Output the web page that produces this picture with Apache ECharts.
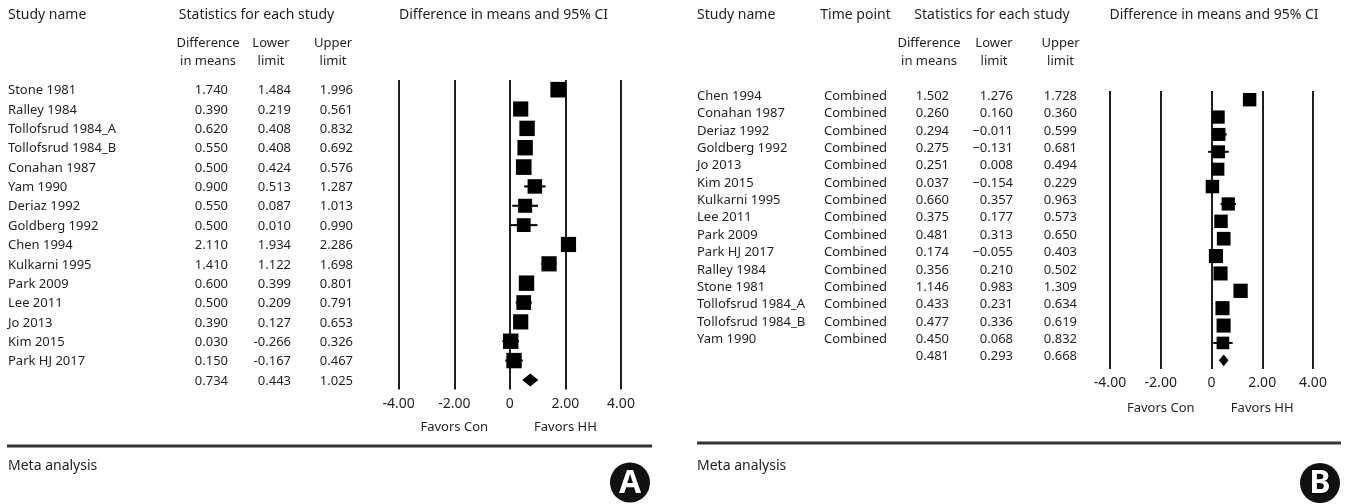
<!DOCTYPE html>
<html>
<head>
<meta charset="utf-8">
<script src="https://cdn.jsdelivr.net/npm/echarts@6/dist/echarts.min.js"></script>
<style>
  html, body { margin: 0; padding: 0; background: #fff; }
  #chart { width: 1346px; height: 504px; }
</style>
</head>
<body>
<div id="chart"></div>
<script>
// ---------- Panel A: studies in chronological order ----------
const studiesA = ['Stone 1981', 'Ralley 1984', 'Tollofsrud 1984_A', 'Tollofsrud 1984_B', 'Conahan 1987',
  'Yam 1990', 'Deriaz 1992', 'Goldberg 1992', 'Chen 1994', 'Kulkarni 1995', 'Park 2009', 'Lee 2011',
  'Jo 2013', 'Kim 2015', 'Park HJ 2017'];
const diffA  = [1.740, 0.390, 0.620, 0.550, 0.500, 0.900, 0.550, 0.500, 2.110, 1.410, 0.600, 0.500, 0.390, 0.030, 0.150];
const lowerA = [1.484, 0.219, 0.408, 0.408, 0.424, 0.513, 0.087, 0.010, 1.934, 1.122, 0.399, 0.209, 0.127, -0.266, -0.167];
const upperA = [1.996, 0.561, 0.832, 0.692, 0.576, 1.287, 1.013, 0.990, 2.286, 1.698, 0.801, 0.791, 0.653, 0.326, 0.467];
const weightA = [6.8, 6.6, 6.7, 6.7, 6.8, 6.3, 6.1, 6.0, 6.6, 6.6, 6.7, 6.4, 6.6, 6.7, 6.7]; // relative weight, %
const pooledA = [0.734, 0.443, 1.025];

// ---------- Panel B: studies in alphabetical order ----------
const studiesB = ['Chen 1994', 'Conahan 1987', 'Deriaz 1992', 'Goldberg 1992', 'Jo 2013', 'Kim 2015',
  'Kulkarni 1995', 'Lee 2011', 'Park 2009', 'Park HJ 2017', 'Ralley 1984', 'Stone 1981',
  'Tollofsrud 1984_A', 'Tollofsrud 1984_B', 'Yam 1990'];
const timePointB = ['Combined', 'Combined', 'Combined', 'Combined', 'Combined', 'Combined', 'Combined',
  'Combined', 'Combined', 'Combined', 'Combined', 'Combined', 'Combined', 'Combined', 'Combined'];
const diffB  = [1.502, 0.260, 0.294, 0.275, 0.251, 0.037, 0.660, 0.375, 0.481, 0.174, 0.356, 1.146, 0.433, 0.477, 0.450];
const lowerB = [1.276, 0.160, -0.011, -0.131, 0.008, -0.154, 0.357, 0.177, 0.313, -0.055, 0.210, 0.983, 0.231, 0.336, 0.068];
const upperB = [1.728, 0.360, 0.599, 0.681, 0.494, 0.229, 0.963, 0.573, 0.650, 0.403, 0.502, 1.309, 0.634, 0.619, 0.832];
const weightB = [6.4, 6.3, 6.2, 6.2, 6.2, 6.4, 6.3, 6.4, 6.5, 6.7, 6.7, 6.8, 6.7, 6.7, 6.0]; // relative weight, %
const pooledB = [0.481, 0.293, 0.668];

// ---------- Shared axis ----------
const tickValues = [-4, -2, 0, 2, 4];
const tickLabels = ['-4.00', '-2.00', '0', '2.00', '4.00'];
const favorValues = [-2, 2];
const favorLabels = ['Favors Con', 'Favors HH'];

// ---------- Layout and style ----------
const FONT = '"Noto Sans", "DejaVu Sans", sans-serif';
const INK = '#231f20';
const BOX_PER_WEIGHT = 0.0828;   // box side = weight * this * pixels per unit

const LAYOUT = {
  A: {
    plotLeft: 398.7, plotWidth: 222.3, plotTop: 80, rowH: 19.35, textShift: 1, favorOffset: 24,
    cols: { name: 8, diff: 228, lower: 291, upper: 353 },
    head: { name: 8, stats: 256.5, plot: 503.5, diff: 208, lower: 271, upper: 333 },
    sepY: 446, sepX: [7, 652], badge: [630, 482.5], letter: 'A', metaX: 8
  },
  B: {
    plotLeft: 1110, plotWidth: 203, plotTop: 91, rowH: 17.375, textShift: -3.6, favorOffset: 26,
    cols: { name: 697, time: 855.5, diff: 949, lower: 1013, upper: 1077 },
    head: { name: 697, time: 855.5, stats: 992, plot: 1214, diff: 929, lower: 994, upper: 1060.5 },
    sepY: 443, sepX: [697, 1341], badge: [1320, 483], letter: 'B', metaX: 697
  }
};

const fmt = (v, minus) => {
  const s = v.toFixed(3);
  return minus ? s.replace('-', '\u2212') : s;
};

const grid = [], xAxis = [], yAxis = [], series = [], graphic = [];

function forestRenderer(params, api) {
  const row = api.value(0);
  const c = api.coord([api.value(1), row]);
  const lo = api.coord([api.value(2), row]);
  const hi = api.coord([api.value(3), row]);
  const unit = api.size([1, 1]);
  const side = api.value(4) * BOX_PER_WEIGHT * unit[0];
  return {
    type: 'group',
    children: [
      { type: 'line', shape: { x1: lo[0], y1: lo[1], x2: hi[0], y2: hi[1] },
        style: { stroke: '#000', lineWidth: 2 } },
      { type: 'rect', shape: { x: c[0] - side / 2, y: c[1] - side / 2, width: side, height: side },
        style: { fill: '#000' } }
    ]
  };
}

function diamondRenderer(params, api) {
  const row = api.value(0);
  const c = api.coord([api.value(1), row]);
  const lo = api.coord([api.value(2), row]);
  const hi = api.coord([api.value(3), row]);
  const h = api.size([1, 1])[1] * 0.67;
  return {
    type: 'polygon',
    shape: { points: [[lo[0], c[1]], [c[0], c[1] - h / 2], [hi[0], c[1]], [c[0], c[1] + h / 2]] },
    style: { fill: '#000' }
  };
}

function addText(text, x, y, size, align) {
  graphic.push({
    type: 'text', x: x, y: y, silent: true,
    style: { text: text, fill: INK, font: size + 'px ' + FONT, align: align, verticalAlign: 'middle' }
  });
}

function buildPanel(key, p) {
  const L = LAYOUT[key];
  const nRows = p.studies.length + 1;
  const rows = p.studies.concat(['']);
  const gPlot = grid.length, gTable = grid.length + 1;
  const plotH = L.rowH * nRows;

  grid.push({ left: L.plotLeft, top: L.plotTop, width: L.plotWidth, height: plotH, outerBoundsMode: 'none' });
  grid.push({ left: L.plotLeft, top: L.plotTop + L.textShift, width: 10, height: plotH, outerBoundsMode: 'none' });

  const xPlot = xAxis.length;
  xAxis.push({
    type: 'value', gridIndex: gPlot, min: -4, max: 4, interval: 2,
    axisLine: { show: false }, axisTick: { show: false },
    splitLine: { show: true, lineStyle: { color: INK, width: 2 } },
    axisLabel: {
      margin: 7, color: INK, fontFamily: FONT, fontSize: 14,
      formatter: v => { const i = tickValues.indexOf(v); return i >= 0 ? tickLabels[i] : ''; }
    }
  });
  xAxis.push({
    type: 'value', gridIndex: gPlot, min: -4, max: 4, interval: 2, position: 'bottom', offset: L.favorOffset,
    axisLine: { show: false }, axisTick: { show: false }, splitLine: { show: false },
    axisLabel: {
      margin: 7, color: INK, fontFamily: FONT, fontSize: 13,
      formatter: v => { const i = favorValues.indexOf(v); return i >= 0 ? favorLabels[i] : ''; }
    }
  });
  xAxis.push({ type: 'value', gridIndex: gTable, show: false });

  const yPlot = yAxis.length;
  yAxis.push({ type: 'category', gridIndex: gPlot, data: rows, inverse: true, show: false });

  // Table columns are drawn as category axes sharing the plot's rows
  const addColumn = (x, align, values) => {
    yAxis.push({
      type: 'category', gridIndex: gTable, data: rows, inverse: true, position: 'left',
      offset: L.plotLeft - x,
      axisLine: { show: false }, axisTick: { show: false }, splitLine: { show: false },
      axisLabel: {
        interval: 0, margin: 0, align: align, color: INK, fontFamily: FONT, fontSize: 13,
        formatter: (v, i) => values[i]
      }
    });
  };
  addColumn(L.cols.name, 'left', rows);
  if (p.timePoint) addColumn(L.cols.time, 'center', p.timePoint.concat(['']));
  addColumn(L.cols.diff, 'right', p.diff.concat([p.pooled[0]]).map(v => fmt(v, p.minus)));
  addColumn(L.cols.lower, 'right', p.lower.concat([p.pooled[1]]).map(v => fmt(v, p.minus)));
  addColumn(L.cols.upper, 'right', p.upper.concat([p.pooled[2]]).map(v => fmt(v, p.minus)));

  series.push({
    type: 'custom', xAxisIndex: xPlot, yAxisIndex: yPlot, renderItem: forestRenderer,
    encode: { x: [1, 2, 3], y: 0 },
    data: p.studies.map((s, i) => [i, p.diff[i], p.lower[i], p.upper[i], p.weight[i]])
  });
  series.push({
    type: 'custom', xAxisIndex: xPlot, yAxisIndex: yPlot, renderItem: diamondRenderer,
    encode: { x: [1, 2, 3], y: 0 },
    data: [[p.studies.length, p.pooled[0], p.pooled[1], p.pooled[2]]]
  });

  // Column headers
  const H = L.head;
  addText('Study name', H.name, 15, 14, 'left');
  if (H.time) addText('Time point', H.time, 15, 14, 'center');
  addText('Statistics for each study', H.stats, 15, 14, 'center');
  addText('Difference in means and 95% CI', H.plot, 15, 14, 'center');
  addText('Difference', H.diff, 43, 13, 'center');
  addText('in means', H.diff, 61, 13, 'center');
  addText('Lower', H.lower, 43, 13, 'center');
  addText('limit', H.lower, 61, 13, 'center');
  addText('Upper', H.upper, 43, 13, 'center');
  addText('limit', H.upper, 61, 13, 'center');

  // Footer rule, caption and panel badge
  graphic.push({
    type: 'line', silent: true,
    shape: { x1: L.sepX[0], y1: L.sepY, x2: L.sepX[1], y2: L.sepY },
    style: { stroke: '#333', lineWidth: 3 }
  });
  addText('Meta analysis', L.metaX, 466, 14, 'left');
  graphic.push({
    type: 'circle', silent: true,
    shape: { cx: L.badge[0], cy: L.badge[1], r: 20 },
    style: { fill: '#111' }
  });
  graphic.push({
    type: 'text', x: L.badge[0], y: L.badge[1] + 1, silent: true,
    style: {
      text: L.letter, fill: '#fff', stroke: '#000', lineWidth: 2,
      font: 'bold 32px ' + FONT, align: 'center', verticalAlign: 'middle'
    }
  });
}

buildPanel('A', { studies: studiesA, diff: diffA, lower: lowerA, upper: upperA, weight: weightA, pooled: pooledA, minus: false });
buildPanel('B', { studies: studiesB, timePoint: timePointB, diff: diffB, lower: lowerB, upper: upperB, weight: weightB, pooled: pooledB, minus: true });

const chart = echarts.init(document.getElementById('chart'), null, { renderer: 'canvas' });
chart.setOption({
  animation: false,
  backgroundColor: '#fff',
  textStyle: { fontFamily: FONT },
  grid: grid,
  xAxis: xAxis,
  yAxis: yAxis,
  series: series,
  graphic: graphic
});
</script>
</body>
</html>
